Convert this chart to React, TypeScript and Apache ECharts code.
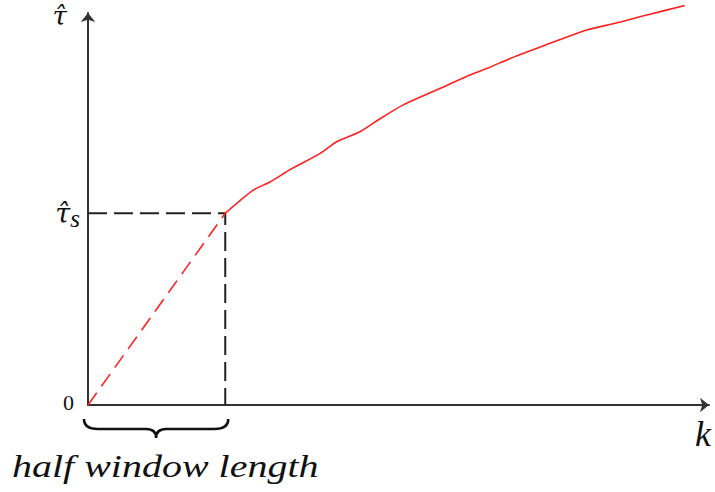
import React, { useEffect, useRef } from "react";
import * as echarts from "echarts";

// Estimator curve: k on the horizontal axis, tau-hat on the vertical axis
const halfWindow = 22.1;
const tauS = 48.9;
const curveK = [22.1, 26.6, 29.3, 32.5, 37.4, 40.1, 43.8, 46.7, 50.7, 56.2, 61.5, 64.3, 68.0, 72.3, 76.5, 80.4, 85.2, 90.0, 96.1];
const curveTau = [48.9, 54.8, 56.9, 60.0, 64.2, 67.2, 69.7, 72.7, 76.5, 80.4, 84.2, 85.9, 88.4, 91.0, 93.5, 95.7, 97.5, 99.5, 101.9];
const yTickValues = [0, tauS];
const yTickLabels = ["{z|0}", "{t|τ̂}{s|s}"];

const TEXT_FONT = "Liberation Serif";
// DejaVu places the combining circumflex over tau correctly
const SYMBOL_FONT = "DejaVu Serif";

export default function App() {
  const ref = useRef<HTMLDivElement>(null);

  useEffect(() => {
    if (!ref.current) return;
    const chart = echarts.init(ref.current, null, { renderer: "svg" });

    const curve = curveK.map((k, i) => [k, curveTau[i]]);

    chart.setOption({
      animation: false,
      backgroundColor: "#ffffff",
      grid: { left: 88, right: 6, top: 13, bottom: 87, containLabel: false },
      xAxis: {
        type: "value",
        min: 0,
        max: 100,
        axisLine: {
          show: true,
          onZero: false,
          symbol: ["none", "arrow"],
          symbolSize: [11, 9],
          lineStyle: { color: "#333333", width: 2 },
        },
        axisTick: { show: false },
        axisLabel: { show: false },
        splitLine: { show: false },
      },
      yAxis: {
        type: "value",
        min: 0,
        max: 100,
        name: "τ̂",
        nameLocation: "end",
        nameGap: 10,
        nameTextStyle: {
          fontFamily: SYMBOL_FONT,
          fontStyle: "italic",
          fontSize: 26,
          color: "#111111",
          align: "right",
          verticalAlign: "top",
          padding: [0, 21, 0, 0],
        },
        axisLine: {
          show: true,
          onZero: false,
          symbol: ["none", "arrow"],
          symbolSize: [11, 9],
          lineStyle: { color: "#333333", width: 2 },
        },
        axisTick: { show: false },
        splitLine: { show: false },
        axisLabel: {
          show: true,
          customValues: yTickValues,
          margin: 8,
          color: "#111111",
          formatter: (v: number) => yTickLabels[yTickValues.indexOf(v)] ?? "",
          rich: {
            z: {
              fontFamily: TEXT_FONT,
              fontSize: 22,
              color: "#111111",
              padding: [0, 6, 5, 0],
            },
            t: { fontFamily: SYMBOL_FONT, fontStyle: "italic", fontSize: 27, color: "#111111" },
            s: {
              fontFamily: TEXT_FONT,
              fontStyle: "italic",
              fontSize: 25,
              color: "#111111",
              padding: [10, 0, 0, 0],
            },
          },
        },
      },
      series: [
        {
          type: "line",
          data: curve,
          showSymbol: false,
          smooth: 0.25,
          clip: false,
          lineStyle: { color: "#ff2020", width: 1.6 },
          z: 3,
        },
        {
          type: "line",
          data: [
            [0, 0],
            [halfWindow, tauS],
          ],
          showSymbol: false,
          lineStyle: { color: "#ff2020", width: 1.6, type: [15, 8] },
          z: 3,
        },
        {
          type: "line",
          data: [
            [0, tauS],
            [halfWindow, tauS],
            [halfWindow, 0],
          ],
          showSymbol: false,
          lineStyle: { color: "#222222", width: 2, type: [19, 7] },
          z: 2,
        },
        {
          // curly brace under the half-window span of the k axis
          type: "custom",
          clip: false,
          data: [[0, halfWindow]],
          renderItem: (params: any, api: any) => {
            const a = api.coord([api.value(0), 0]);
            const b = api.coord([api.value(1), 0]);
            const x0 = a[0] - 4;
            const x1 = b[0] + 3;
            const y0 = a[1] + 14;
            const h = 10;
            const xm = (x0 + x1) / 2;
            const d =
              `M${x0},${y0} Q${x0},${y0 + h} ${x0 + 14},${y0 + h} ` +
              `L${xm - 10},${y0 + h} Q${xm},${y0 + h} ${xm},${y0 + h + 9} ` +
              `Q${xm},${y0 + h} ${xm + 10},${y0 + h} ` +
              `L${x1 - 14},${y0 + h} Q${x1},${y0 + h} ${x1},${y0}`;
            return {
              type: "path",
              shape: { pathData: d },
              style: { fill: "none", stroke: "#111111", lineWidth: 2.6 },
            };
          },
        },
      ],
      graphic: [
        {
          type: "text",
          x: 12,
          y: 467,
          scaleX: 1.29,
          style: {
            text: "half window length",
            fontFamily: TEXT_FONT,
            fontStyle: "italic",
            fontSize: 31,
            fill: "#111111",
            align: "left",
            verticalAlign: "middle",
          },
        },
        {
          type: "text",
          x: 695,
          y: 434,
          style: {
            text: "k",
            fontFamily: TEXT_FONT,
            fontStyle: "italic",
            fontSize: 36,
            fill: "#111111",
            align: "left",
            verticalAlign: "middle",
          },
        },
      ],
    });

    return () => chart.dispose();
  }, []);

  return <div ref={ref} style={{ width: 715, height: 492, position: "absolute", left: 0, top: 0 }} />;
}
